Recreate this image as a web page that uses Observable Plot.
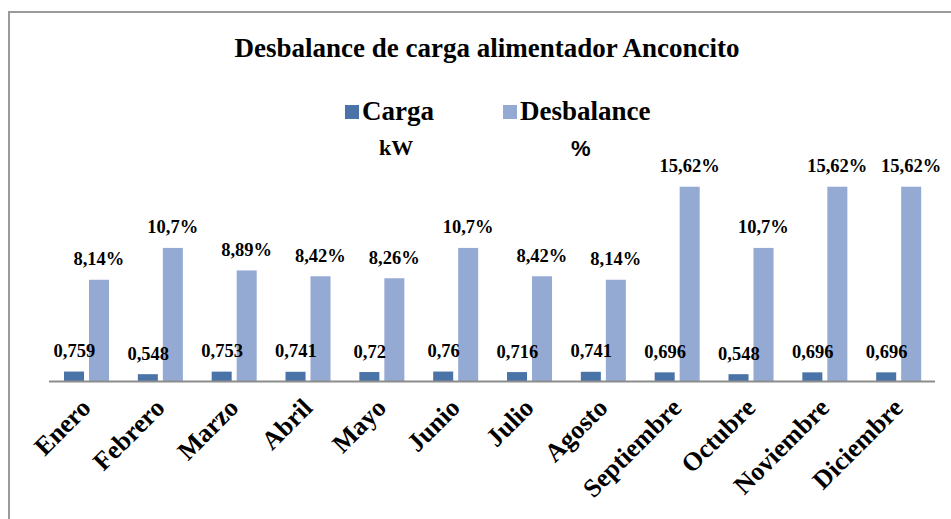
<!DOCTYPE html>
<html>
<head>
<meta charset="utf-8">
<script src="https://cdn.jsdelivr.net/npm/d3@7"></script>
<script src="https://cdn.jsdelivr.net/npm/@observablehq/plot@0.6"></script>
<style>
  html, body { margin: 0; padding: 0; background: #fff; overflow: hidden; }
  #wrap { position: relative; width: 951px; height: 519px; overflow: hidden; }
  #frame { position: absolute; left: 8px; top: 11px; width: 980px; height: 540px;
           border-left: 2px solid #9a9a9a; border-top: 2px solid #9a9a9a; }
  .t { position: absolute; white-space: nowrap; line-height: 1; color: #000;
       font-family: "Liberation Serif", "DejaVu Serif", serif; font-weight: bold; }
  .sw { position: absolute; width: 14px; height: 14px; }
  #chart { position: absolute; left: 0; top: 130px; }
</style>
</head>
<body>
<div id="wrap">
  <div id="frame"></div>
  <div class="t" id="title" style="left:0; width:974px; text-align:center; top:35px; font-size:27px;">Desbalance de carga alimentador Anconcito</div>
  <div class="sw" style="left:345px; top:105px; background:#4A74A8;"></div>
  <div class="t" style="left:362px; top:98px; font-size:27px;">Carga</div>
  <div class="sw" style="left:503px; top:105px; background:#95AAD3;"></div>
  <div class="t" style="left:520px; top:98px; font-size:27px;">Desbalance</div>
  <div class="t" style="left:379px; top:137px; font-size:22px;">kW</div>
  <div class="t" style="left:571px; top:138px; font-size:22px; font-family:'Liberation Sans', Arial, sans-serif;">%</div>
  <div id="chart"></div>
</div>
<script>
const months = ["Enero","Febrero","Marzo","Abril","Mayo","Junio","Julio","Agosto","Septiembre","Octubre","Noviembre","Diciembre"];
const carga = [0.759,0.548,0.753,0.741,0.72,0.76,0.716,0.741,0.696,0.548,0.696,0.696];
const desbalance = [8.14,10.7,8.89,8.42,8.26,10.7,8.42,8.14,15.62,10.7,15.62,15.62];
const colorCarga = "#4A74A8";
const colorDesbalance = "#95AAD3";

const data = months.map((m, i) => ({month: m, carga: carga[i], desbalance: desbalance[i]}));
const fmt = v => String(v).replace(".", ",");
const font = "'Liberation Serif', 'DejaVu Serif', serif";

const chart = Plot.plot({
  width: 951,
  height: 389,
  marginLeft: 49,
  marginRight: 16,
  marginTop: 52,
  marginBottom: 138,
  style: {fontFamily: font, background: "transparent", overflow: "visible"},
  x: {domain: months, padding: 0, round: false, label: null},
  y: {domain: [0, 16], axis: null},
  marks: [
    Plot.barY(data, {x: "month", y: "carga", fill: colorCarga, insetLeft: 15, insetRight: 38.8}),
    Plot.barY(data, {x: "month", y: "desbalance", fill: colorDesbalance, insetLeft: 40, insetRight: 13.8}),
    Plot.ruleY([0], {stroke: "#8c8c8c", strokeWidth: 2}),
    Plot.text(data, {x: "month", y: "carga", text: d => fmt(d.carga), dx: -12, dy: -15, lineAnchor: "bottom",
      fontSize: 18.5, fontWeight: "bold", fill: "#000", fontFamily: font}),
    Plot.text(data, {x: "month", y: "desbalance", text: d => fmt(d.desbalance) + "%", dx: 12.5, dy: -15, lineAnchor: "bottom",
      fontSize: 18.5, fontWeight: "bold", fill: "#000", fontFamily: font}),
    Plot.axisX({tickRotate: -45, tickSize: 0, tickPadding: 22, dx: 0, fontSize: 26, fontWeight: "bold",
      fill: "#000", fontFamily: font, label: null})
  ]
});
document.getElementById("chart").appendChild(chart);
</script>
</body>
</html>
